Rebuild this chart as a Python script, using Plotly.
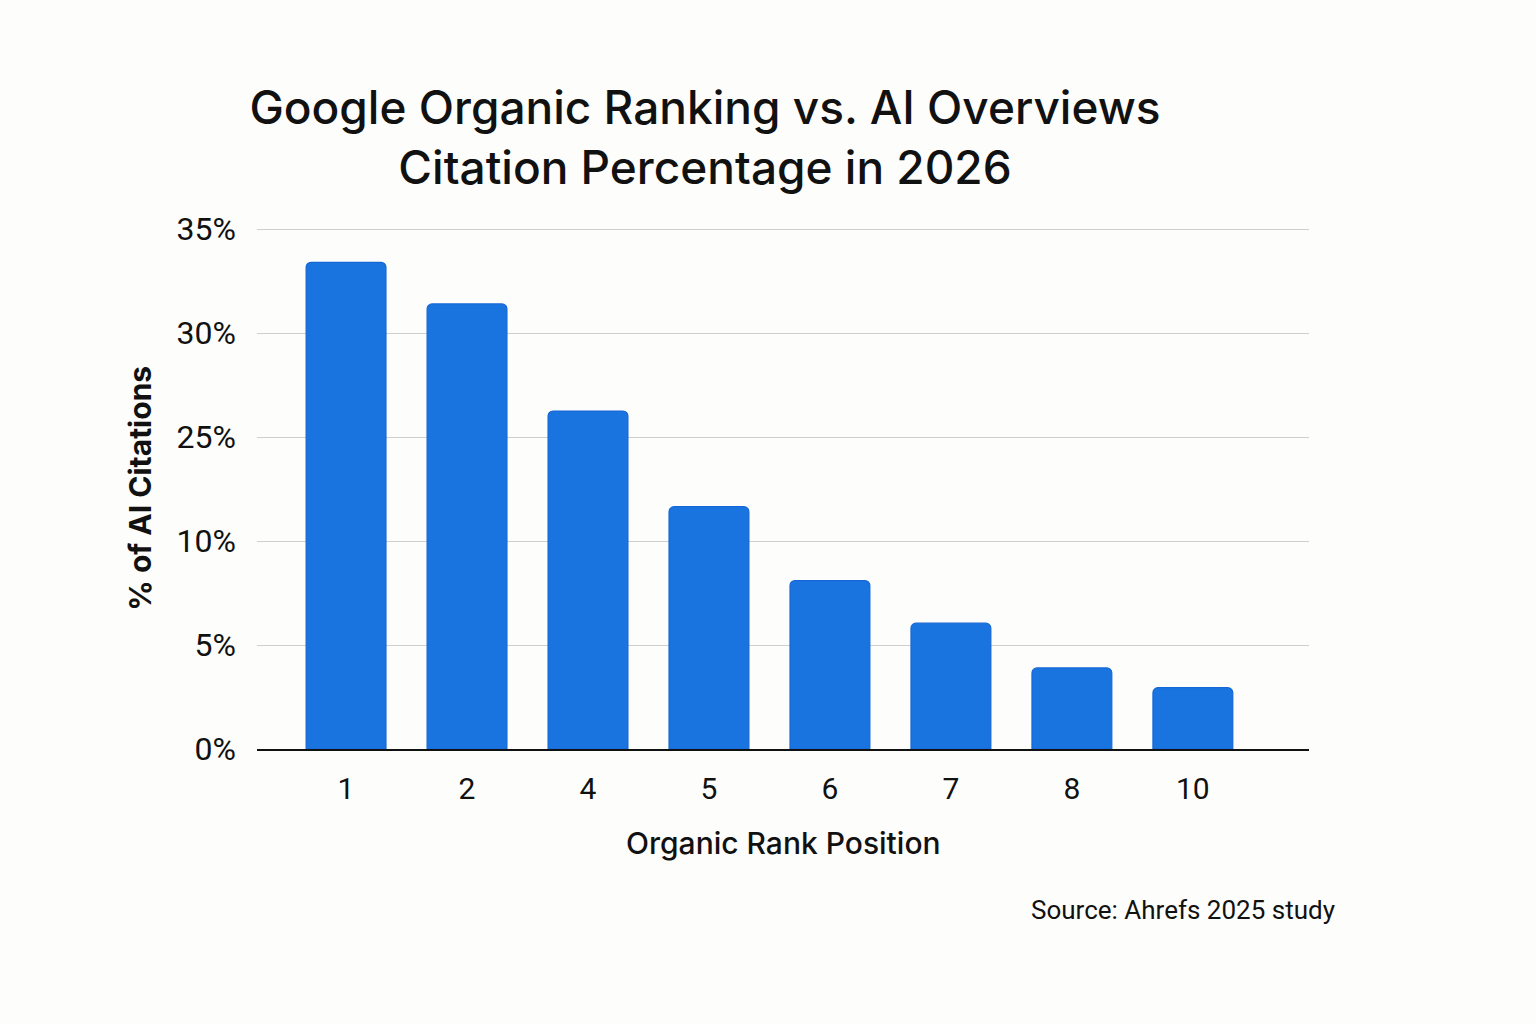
import plotly.graph_objects as go

# 데이터: 오가닉 순위별 AI Overviews 인용 비율 (%)
rank_positions = ['1', '2', '4', '5', '6', '7', '8', '10']
citation_pct = [33.4, 31.4, 26.25, 11.65, 8.1, 6.05, 3.9, 2.95]

# 원본 차트의 y축은 10% 다음이 바로 25% (구간 생략)
tick_pct = [0, 5, 10, 25, 30, 35]
tick_labels = ['0%', '5%', '10%', '25%', '30%', '35%']


def axis_pos(v):
    # 25% 이상은 생략된 구간만큼 아래로 당김 (25% -> 15 위치)
    return v - 10 if v >= 25 else v


bar_y = [axis_pos(v) for v in citation_pct]
tick_pos = [axis_pos(v) for v in tick_pct]

FONT = 'Inter'

fig = go.Figure()
fig.add_trace(go.Bar(
    x=rank_positions,
    y=bar_y,
    customdata=citation_pct,
    hovertemplate='Rank %{x}: %{customdata}%<extra></extra>',
    width=0.66,
    marker=dict(color='#1a74e0', line=dict(color='#1467d6', width=1.2)),
))

fig.update_layout(
    width=1536, height=1024,
    paper_bgcolor='#fdfdfb',
    plot_bgcolor='#fdfdfb',
    margin=dict(l=257, r=227, t=228, b=275),
    barcornerradius=5,
    showlegend=False,
    font=dict(family=FONT, color='#111111'),
    title=dict(
        text='Google Organic Ranking vs. AI Overviews<br>Citation Percentage in 2026',
        x=0.459, xanchor='center', y=0.879, yanchor='middle',
        font=dict(family=FONT, size=46, color='#111111', weight=500),
    ),
    xaxis=dict(
        type='category',
        range=[-0.736, 7.96],
        showgrid=False,
        showline=True, linecolor='#111111', linewidth=2,
        ticks='', ticklabelstandoff=12,
        tickfont=dict(family='Roboto', size=30, color='#111111'),
    ),
    yaxis=dict(
        range=[0, 25.05],
        tickvals=tick_pos,
        ticktext=tick_labels,
        showgrid=True, gridcolor='#cfcfd2', gridwidth=1,
        zeroline=False, showline=False,
        ticks='', ticklabelstandoff=20,
        tickfont=dict(family='Roboto', size=32, color='#111111'),
    ),
    annotations=[
        dict(text='% of AI Citations', textangle=-90,
             xref='paper', yref='paper', x=-0.112, y=0.5,
             xanchor='center', yanchor='middle', showarrow=False,
             font=dict(family=FONT, size=30, color='#111111', weight=700)),
        dict(text='Organic Rank Position',
             xref='paper', yref='paper', x=0.5, y=-0.181,
             xanchor='center', yanchor='middle', showarrow=False,
             font=dict(family=FONT, size=30, color='#111111', weight=500)),
        dict(text='Source: Ahrefs 2025 study',
             xref='paper', yref='paper', x=1.0266, y=-0.3096,
             xanchor='right', yanchor='middle', showarrow=False,
             font=dict(family='Roboto', size=26, color='#111111')),
    ],
)

# 기본 body 여백(8px) 제거
fig.write_html("out.html", config={'displayModeBar': False},
               post_script="document.body.style.margin='0';")
